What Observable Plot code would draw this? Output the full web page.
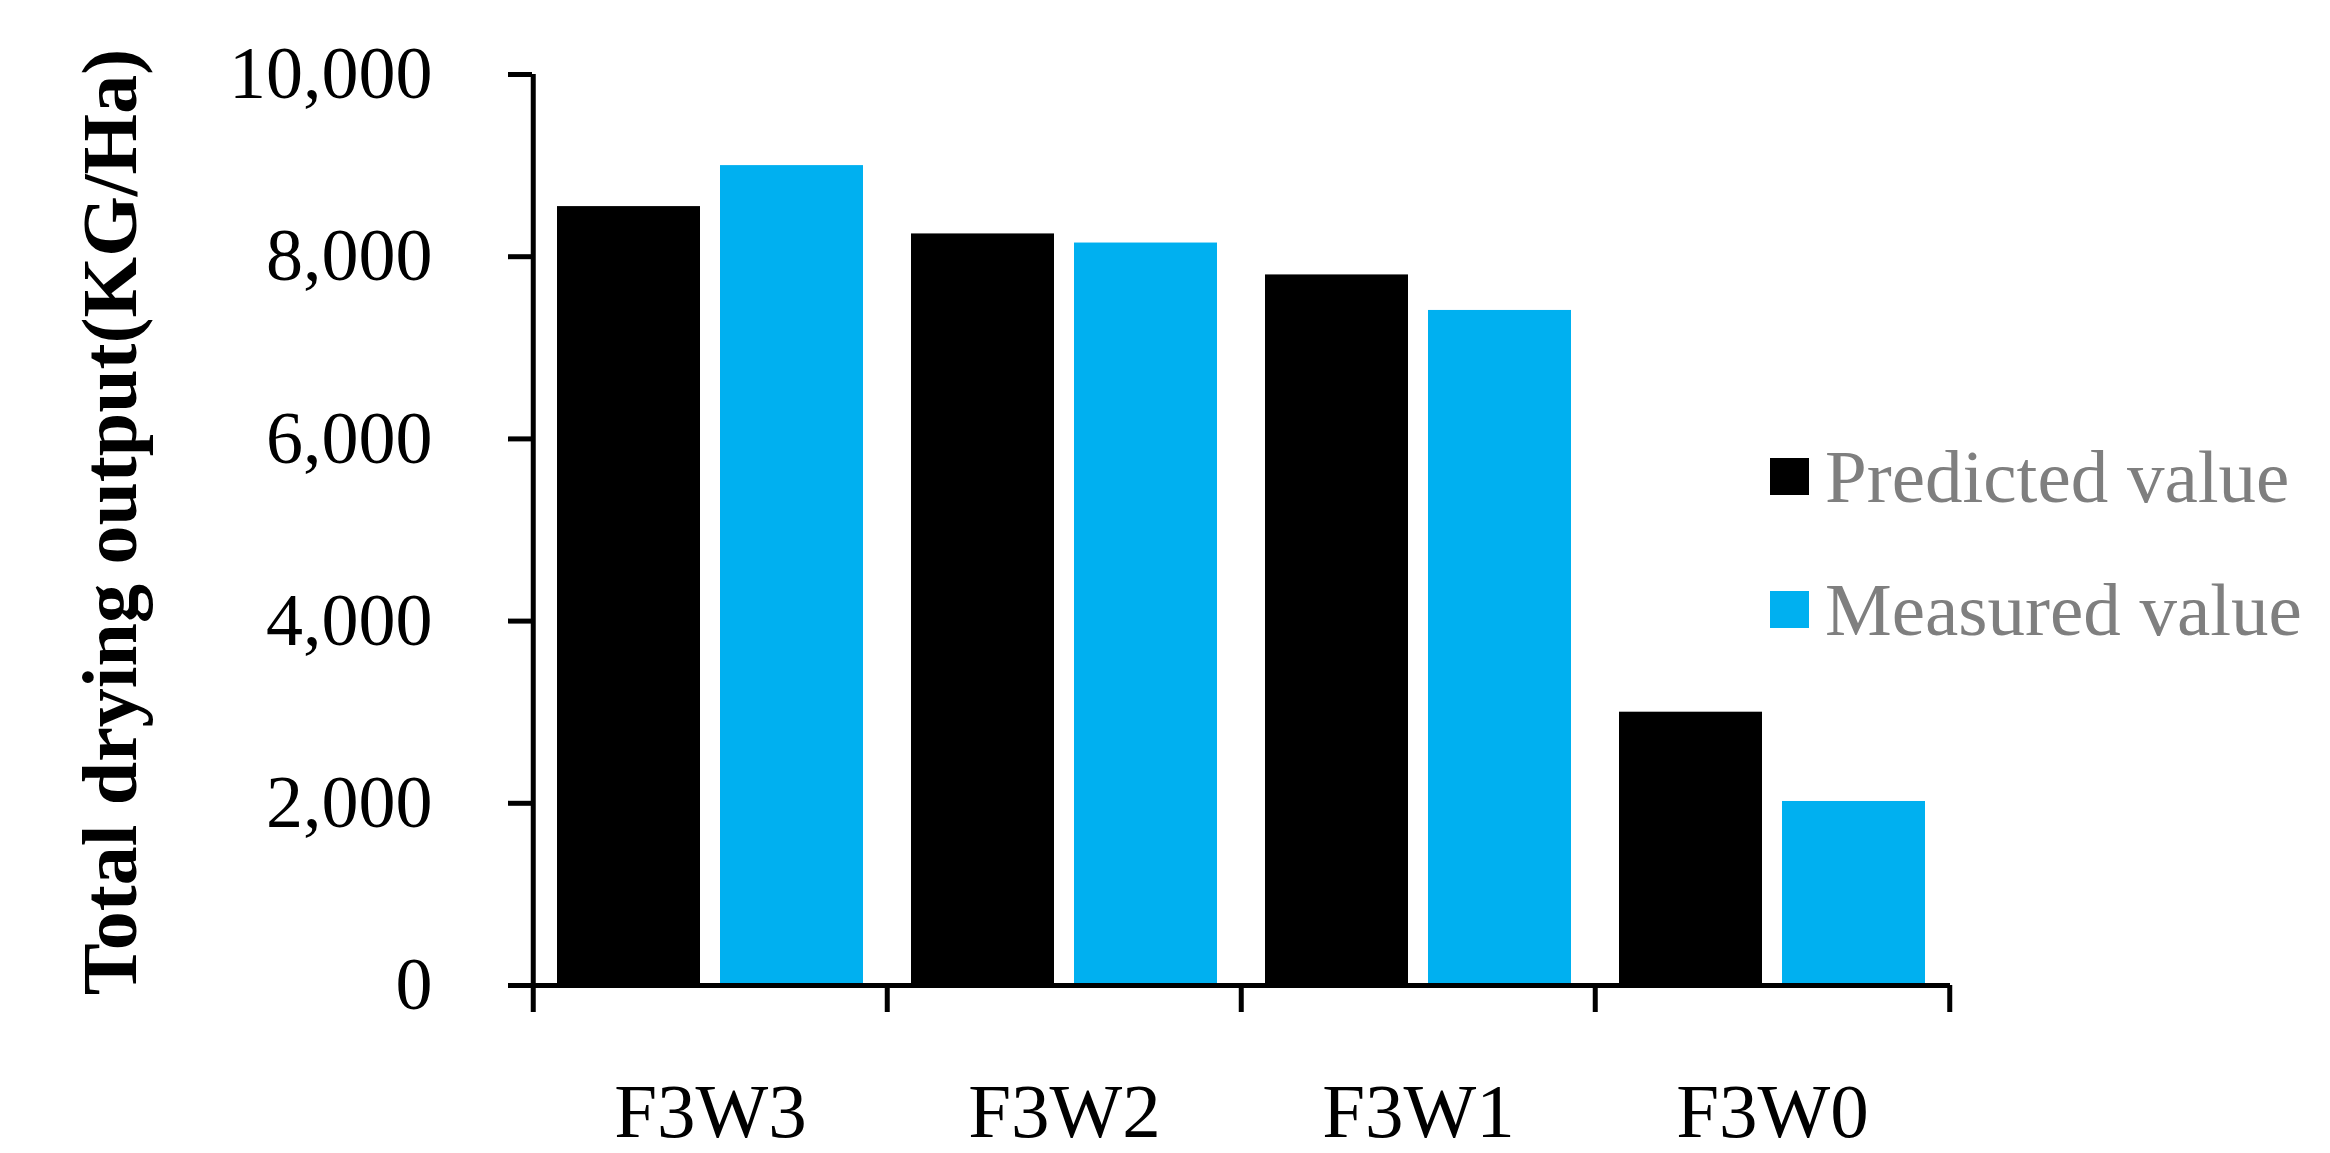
<!DOCTYPE html>
<html>
<head>
<meta charset="utf-8">
<script src="https://cdn.jsdelivr.net/npm/d3@7"></script>
<script src="https://cdn.jsdelivr.net/npm/@observablehq/plot@0.6"></script>
<style>
  html, body { margin: 0; padding: 0; background: #ffffff; }
  #wrap { position: relative; width: 2330px; height: 1153px; overflow: hidden; background: #fff; }
  #legend { position: absolute; left: 1770px; top: 439px; font-family: "Liberation Serif", serif; font-size: 75px; color: #7f7f7f; }
  .row { display: flex; align-items: center; height: 75px; line-height: 1; white-space: nowrap; }
  .row + .row { margin-top: 58px; }
  .sw { width: 39px; height: 37px; margin-right: 16px; flex: none; }
</style>
</head>
<body>
<div id="wrap"></div>
<script>
// ---- data ----
const categories = ["F3W3", "F3W2", "F3W1", "F3W0"];
const predicted = [8550, 8250, 7800, 3000];
const measured = [9000, 8150, 7410, 2020];
const seriesNames = ["Predicted value", "Measured value"];
const seriesColors = ["#000000", "#00B0F0"];
const yTicks = [0, 2000, 4000, 6000, 8000, 10000];
const yLabel = "Total drying output(KG/Ha)";

// ---- layout ----
const W = 2330, H = 1153;
const mL = 532, mR = 380, mT = 74, mB = 168;
const band = (W - mL - mR) / categories.length;
const half = band / 2;
const pad = 24, barW = 143.5;

const data = categories.map((c, i) => ({category: c, predicted: predicted[i], measured: measured[i]}));

const chart = Plot.plot({
  width: W, height: H,
  marginLeft: mL, marginRight: mR, marginTop: mT, marginBottom: mB,
  style: {fontFamily: "Liberation Serif, serif", background: "white", color: "black", overflow: "visible"},
  x: {domain: categories, padding: 0},
  y: {domain: [0, 10000]},
  marks: [
    Plot.barY(data, {x: "category", y: "predicted", fill: seriesColors[0], insetLeft: pad, insetRight: band - pad - barW}),
    Plot.barY(data, {x: "category", y: "measured", fill: seriesColors[1], insetLeft: band - pad - barW, insetRight: pad}),
    Plot.ruleY([0], {stroke: "black", strokeWidth: 5}),
    Plot.ruleX([categories[0]], {dx: -half, stroke: "black", strokeWidth: 5}),
    Plot.axisX(categories, {tickSize: 27, text: null, dx: -half, strokeWidth: 5, label: null}),
    Plot.axisX([categories[categories.length - 1]], {tickSize: 27, text: null, dx: half, strokeWidth: 5, label: null}),
    Plot.axisX(categories, {tickSize: 0, tickPadding: 97, fontSize: 77, label: null}),
    Plot.axisY(yTicks, {tickSize: 24, tickPadding: 76, strokeWidth: 5, fontSize: 74, tickFormat: d3.format(","), label: null}),
    Plot.text([yLabel], {frameAnchor: "left", textAnchor: "middle", lineAnchor: "middle", rotate: -90, dx: -421.5, dy: -8, fontSize: 78, fontWeight: "bold", fill: "black"})
  ]
});

const wrap = document.getElementById("wrap");
wrap.appendChild(chart);

const legend = document.createElement("div");
legend.id = "legend";
seriesNames.forEach((name, i) => {
  const row = document.createElement("div");
  row.className = "row";
  const sw = document.createElement("span");
  sw.className = "sw";
  sw.style.background = seriesColors[i];
  const t = document.createElement("span");
  t.textContent = name;
  row.appendChild(sw);
  row.appendChild(t);
  legend.appendChild(row);
});
wrap.appendChild(legend);
</script>
</body>
</html>
